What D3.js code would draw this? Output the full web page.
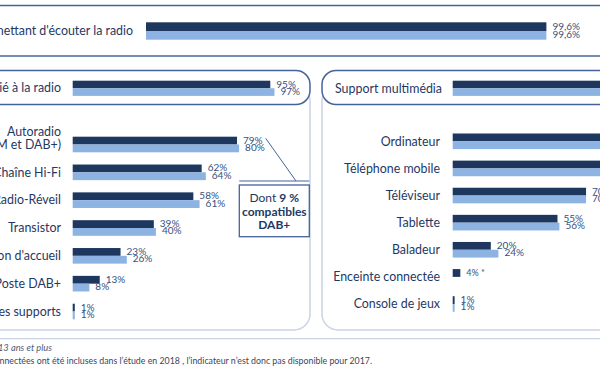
<!DOCTYPE html>
<html>
<head>
<meta charset="utf-8">
<script src="https://cdn.jsdelivr.net/npm/d3@7"></script>
<style>
    body { margin: 0; background: #fff; }
    svg { display: block; font-family: Lato, "Open Sans", sans-serif; }
</style>
</head>
<body>
<div id="chart"></div>
<script>
// dark = 2018, light = 2017 (enceinte connectée n'existe qu'en 2018)
const topLabel = "Au moins un support permettant d'écouter la radio"
const top2018 = 99.6
const top2017 = 99.6

const radioHeader = 'Support dédié à la radio'
const radioHeader2018 = 95
const radioHeader2017 = 97
const radioCats = ['Autoradio\n(FM et DAB+)', 'Chaîne Hi-Fi', 'Radio-Réveil', 'Transistor', "Station d'accueil", 'Poste DAB+', 'Autres supports']
const radio2018 = [79, 62, 58, 39, 23, 13, 1]
const radio2017 = [80, 64, 61, 40, 26, 8, 1]

const multiHeader = 'Support multimédia'
const multiHeader2018 = 99
const multiHeader2017 = 99
const multiCats = ['Ordinateur', 'Téléphone mobile', 'Téléviseur', 'Tablette', 'Baladeur', 'Enceinte connectée', 'Console de jeux']
const multi2018 = [84, 90, 70, 55, 20, 4, 1]
const multi2017 = [85, 88, 70, 56, 24, null, 1]

const notes = [
    'Base : ensemble des 13 ans et plus',
    "* Les enceintes connectées ont été incluses dans l’étude en 2018 , l’indicateur n’est donc pas disponible pour 2017."
]

const DARK = '#1d375f', LIGHT = '#8db3e2', TEXT = '#1f3864', VAL = '#34507e', FRAME = '#44639a', SOFT = '#c9d4e6'
const LABEL_SIZE = 12.4

const svg = d3.select('#chart').append('svg').attr('width', 600).attr('height', 372)

const fmt = v => (Number.isInteger(v) ? v : String(v).replace('.', ',')) + '%'

// a pair of bars (dark above, light below) with their value labels
function drawPair(g, x, cy, h, dark, light, darkSuffix = '') {
    const sub = d3.scaleBand().domain(['d', 'l']).range([cy - h, cy + h])
    const rows = [{ k: 'd', v: dark, c: DARK, s: darkSuffix }, { k: 'l', v: light, c: LIGHT, s: '' }]
        .filter(r => r.v !== null)
    g.selectAll(null).data(rows).enter().append('rect')
        .attr('x', x(0)).attr('y', r => sub(r.k))
        .attr('width', r => x(r.v) - x(0)).attr('height', sub.bandwidth())
        .attr('fill', r => r.c)
    g.selectAll(null).data(rows).enter().append('text')
        .attr('x', r => x(r.v) + 6).attr('y', r => sub(r.k) + sub.bandwidth() / 2 + (r.k === 'd' ? 3 : 2.5))
        .attr('fill', VAL).style('font-size', r => r.s ? '9px' : '10px')
        .text(r => fmt(r.v) + r.s)
}

function drawLabel(g, x, cy, label, size = LABEL_SIZE) {
    const lines = label.split('\n')
    const t = g.append('text').attr('text-anchor', 'end').attr('fill', TEXT).style('font-size', size + 'px')
    lines.forEach((ln, i) => {
        t.append('tspan').attr('x', x).attr('y', cy + 4.3 - (lines.length - 1 - i) * 12.5).text(ln)
    })
}

// top band
svg.append('line').attr('x1', 0).attr('x2', 600).attr('y1', 5.5).attr('y2', 5.5).attr('stroke', FRAME).attr('stroke-width', 1.5)
svg.append('line').attr('x1', 0).attr('x2', 600).attr('y1', 56).attr('y2', 56).attr('stroke', FRAME).attr('stroke-width', 1.5)
const xTop = d3.scaleLinear().domain([0, 100]).range([146, 548])
drawLabel(svg, 133, 31, topLabel)
drawPair(svg, xTop, 31, 8.7, top2018, top2017)

// panels
function drawPanel(px, pw, header, h18, h17, cats, v18, v17, x, yFirst, yLast, labelX, headerLeft) {
    const g = svg.append('g')
    g.append('rect').attr('x', px).attr('y', 85).attr('width', pw).attr('height', 245)
        .attr('rx', 16).attr('fill', 'none').attr('stroke', SOFT).attr('stroke-width', 1.5)
    g.append('rect').attr('x', px).attr('y', 70.5).attr('width', pw).attr('height', 34)
        .attr('rx', 14).attr('fill', '#fff').attr('stroke', FRAME).attr('stroke-width', 1.5)
    if (headerLeft) {
        g.append('text').attr('x', headerLeft).attr('y', 92.5).attr('fill', TEXT).style('font-size', LABEL_SIZE + 'px').text(header)
    } else {
        drawLabel(g, labelX, 88, header)
    }
    drawPair(g, x, 88.3, 7.6, h18, h17)
    const y = d3.scalePoint().domain(cats).range([yFirst, yLast])
    cats.forEach((c, i) => {
        drawLabel(g, labelX, y(c), c)
        drawPair(g, x, y(c), 7.8, v18[i], v17[i], v17[i] === null ? ' *' : '')
    })
    return y
}

const xRadio = d3.scaleLinear().domain([0, 100]).range([72.7, 280.7])
drawPanel(-40, 350, radioHeader, radioHeader2018, radioHeader2017, radioCats, radio2018, radio2017, xRadio, 144.5, 311.5, 61)

const xMulti = d3.scaleLinear().domain([0, 100]).range([452.7, 643.2])
drawPanel(322, 320, multiHeader, multiHeader2018, multiHeader2017, multiCats, multi2018, multi2017, xMulti, 141.3, 304, 440, 335)

// callout about DAB+
svg.append('line').attr('x1', 265.7).attr('y1', 138.3).attr('x2', 296).attr('y2', 181).attr('stroke', FRAME).attr('stroke-width', 1)
svg.append('line').attr('x1', 239.3).attr('y1', 181).attr('x2', 309.3).attr('y2', 181).attr('stroke', FRAME).attr('stroke-width', 1)
svg.append('rect').attr('x', 239.3).attr('y', 185).attr('width', 70).attr('height', 51.7)
    .attr('fill', '#fff').attr('stroke', FRAME).attr('stroke-width', 1.3)
const call = svg.append('text').attr('text-anchor', 'middle').attr('fill', TEXT).style('font-size', '12px')
const l1 = call.append('tspan').attr('x', 274.3).attr('y', 202)
l1.append('tspan').text('Dont ')
l1.append('tspan').style('font-weight', 'bold').text('9 %')
call.append('tspan').attr('x', 274.3).attr('y', 215.5).style('font-weight', 'bold').text('compatibles')
call.append('tspan').attr('x', 274.3).attr('y', 229).style('font-weight', 'bold').text('DAB+')

// footer
svg.append('line').attr('x1', 0).attr('x2', 600).attr('y1', 338.7).attr('y2', 338.7).attr('stroke', SOFT).attr('stroke-width', 1.2)
svg.append('text').attr('x', 52).attr('y', 351).attr('text-anchor', 'end')
    .attr('fill', '#4d5d7a').style('font-size', '9.3px').style('font-style', 'italic').text(notes[0])
svg.append('text').attr('x', 372).attr('y', 364).attr('text-anchor', 'end')
    .attr('fill', '#38465f').style('font-size', '8.8px').text(notes[1])
</script>
</body>
</html>
